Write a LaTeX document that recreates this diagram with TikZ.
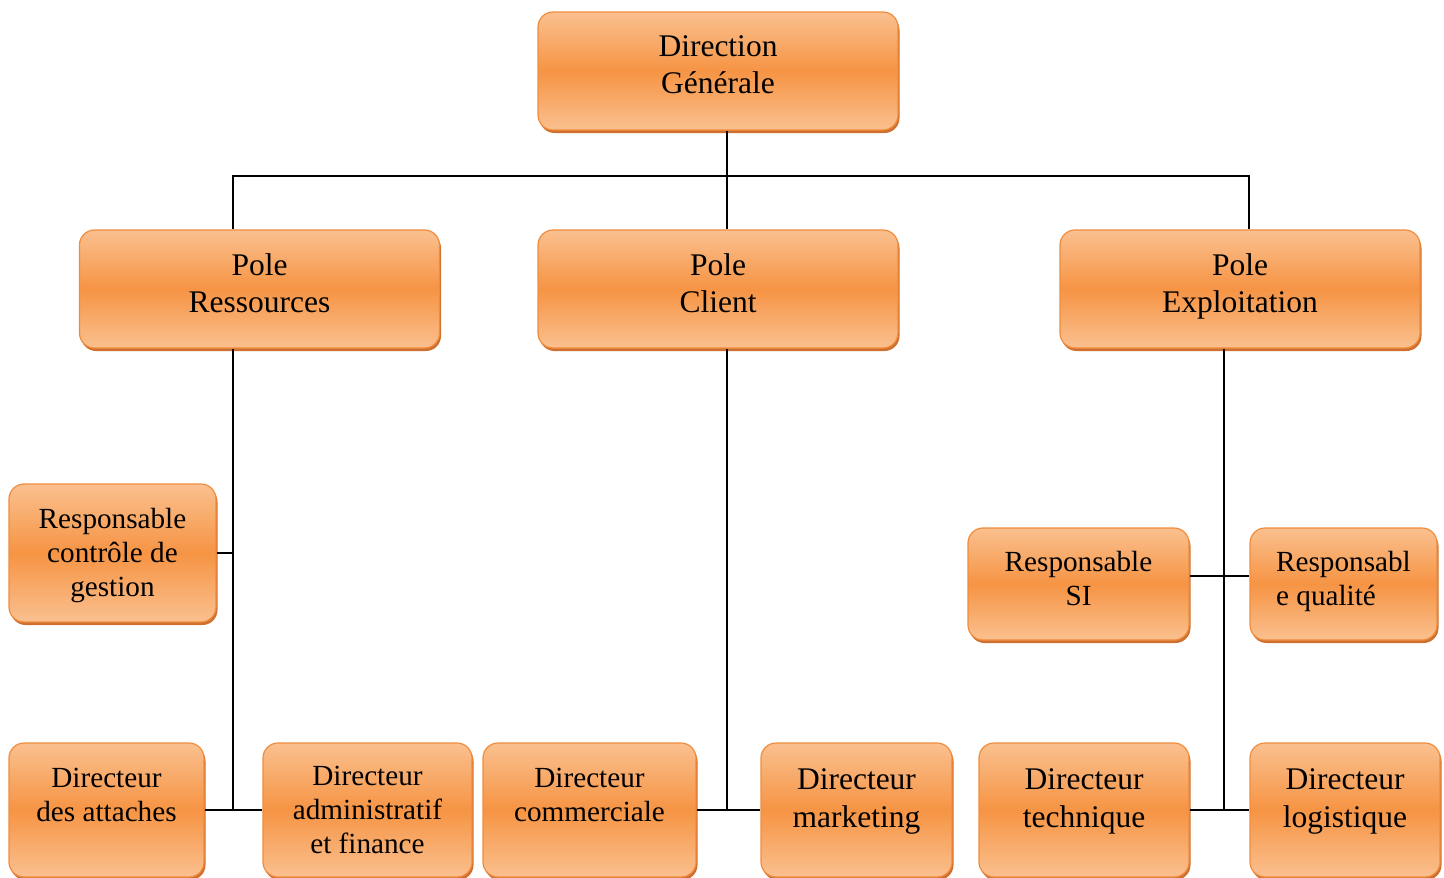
\documentclass[tikz,border=0pt]{standalone}
\usepackage{fontspec}
\setmainfont{Liberation Serif}
\usetikzlibrary{shadows}

\definecolor{boxlight}{RGB}{250,192,143}
\definecolor{boxmid}{RGB}{246,148,68}
\definecolor{boxedge}{RGB}{240,140,60}
\definecolor{boxshade}{RGB}{205,112,48}

\begin{document}
\begin{tikzpicture}[x=1pt,y=-1pt,every node/.style={rectangle}]

\tikzstyle{unit}=[draw=boxedge,line width=1.2pt,rounded corners=15pt,top color=boxlight,bottom color=boxlight,middle color=boxmid,align=center,inner sep=0pt,drop shadow={shadow xshift=1.5pt,shadow yshift=-3pt,fill=boxshade,opacity=1}];
\tikzstyle{pole}=[unit,minimum width=360pt,minimum height=118pt,font=\fontsize{31.5}{37}\selectfont];
\tikzstyle{resp}=[unit,minimum height=112pt,font=\fontsize{29.2}{34}\selectfont];
\tikzstyle{dir}=[unit,minimum height=134pt,font=\fontsize{29.2}{34}\selectfont];
\tikzstyle{dirb}=[dir,font=\fontsize{31.5}{38}\selectfont];
\tikzstyle{wire}=[line width=1.6pt];

\useasboundingbox (0,0) rectangle (1444,878);

% top level
\node[pole] (dg) at (718,71) {Direction\\Générale\\[-25pt]\mbox{}};

% poles
\node[pole] (pres) at (259.5,289) {Pole\\Ressources\\[-25pt]\mbox{}};
\node[pole] (pcli) at (718,289) {Pole\\Client\\[-25pt]\mbox{}};
\node[pole] (pexp) at (1240,289) {Pole\\Exploitation\\[-25pt]\mbox{}};

% responsables
\node[resp,minimum width=207pt,minimum height=138pt] (rcg) at (112.5,553) {\mbox{}\\[-8pt]Responsable\\contrôle de\\gestion};
\node[resp,minimum width=221pt] (rsi) at (1078.5,584) {Responsable\\SI\\[-23pt]\mbox{}};
\node[resp,minimum width=187pt,align=left] (rqual) at (1343.5,584) {Responsabl\\e qualité\\[-23pt]\mbox{}};

% directeurs
\node[dir,minimum width=195pt] (datt) at (106.5,810) {Directeur\\des attaches\\[-4pt]\mbox{}};
\node[dir,minimum width=209pt] (dadm) at (367.5,810) {Directeur\\administratif\\et finance};
\node[dir,minimum width=213pt] (dcom) at (589.5,810) {Directeur\\commerciale\\[-4pt]\mbox{}};
\node[dirb,minimum width=191pt] (dmkt) at (856.5,810) {Directeur\\marketing\\[-14pt]\mbox{}};
\node[dirb,minimum width=210pt] (dtec) at (1084,810) {Directeur\\technique\\[-14pt]\mbox{}};
\node[dirb,minimum width=190pt] (dlog) at (1345,810) {Directeur\\logistique\\[-14pt]\mbox{}};

% liaisons
\coordinate (bus) at (727,176);
\coordinate (stemR) at ([xshift=-26.5pt]pres.south);
\coordinate (stemC) at ([xshift=9pt]pcli.south);
\coordinate (stemE) at ([xshift=-16pt]pexp.south);

\draw[wire] ([xshift=9pt]dg.south) -- ([xshift=9pt]pcli.north);
\draw[wire] ([xshift=-26.5pt]pres.north) |- (bus) -| ([xshift=9pt]pexp.north);

\draw[wire] (stemR) -- (stemR |- datt.east);
\draw[wire] (rcg.east) -- (rcg.east -| stemR);
\draw[wire] (datt.east) -- (dadm.west);

\draw[wire] (stemC) -- (stemC |- dcom.east);
\draw[wire] (dcom.east) -- (dmkt.west);

\draw[wire] (stemE) -- (stemE |- dtec.east);
\draw[wire] ([yshift=8pt]rsi.east) -- ([yshift=8pt]rqual.west);
\draw[wire] (dtec.east) -- (dlog.west);

\end{tikzpicture}
\end{document}
